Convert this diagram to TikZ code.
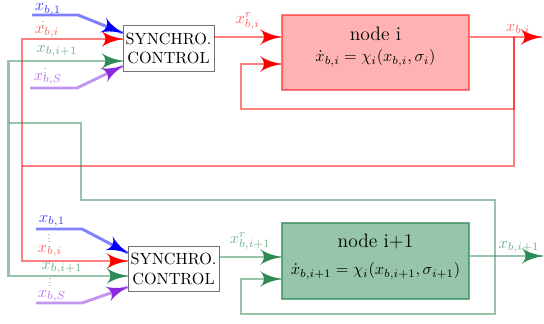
\documentclass[tikz,border=0pt]{standalone}
\usepackage{amsmath}
\usepackage{tikz}
\usetikzlibrary{arrows}
\usetikzlibrary{decorations.markings}
\usetikzlibrary{positioning}
\definecolor{seagreen}{RGB}{46,139,87}
\definecolor{blueviolet}{RGB}{138,43,226}
\tikzset{->/.style = {decoration={markings,
                                  mark=at position 1 with {\arrow[scale=1.6]{latex'}}},
                      postaction={decorate, draw opacity=1, fill opacity=1}},
         wire/.style = {draw=#1, draw opacity=0.5, line width=1.8pt},
         sync/.style = {draw=black!55, fill=white, align=center, inner sep=1pt,
                        minimum width=56pt, minimum height=28pt},
         plant/.style = {draw=#1, draw opacity=0.5, fill=#1, fill opacity=0.3,
                         line width=1.2pt, minimum width=115pt, minimum height=46.5pt}}

\begin{document}
\begin{tikzpicture}[x=0.617pt, y=-0.617pt]
    \useasboundingbox (0, 0) rectangle (544, 324);
    % blocks
    \node [sync] (sync1) at (168.5, 48.5) {SYNCHRO.\\CONTROL};
    \node [sync] (sync2) at (173.5, 269) {SYNCHRO.\\CONTROL};
    \node [plant=red] (node1) at (375.5, 52.5) {};
    \node [plant=seagreen, draw opacity=0.7, fill opacity=0.5] (node2) at (375.5, 261) {};
    \node (title1) at (375.5, 34) {\large node i};
    \node (law1) at (375.5, 58) {$\dot{x}_{b,i} = \chi_i(x_{b,i}, \sigma_i)$};
    \node (title2) at (375.5, 242) {\large node i+1};
    \node (law2) at (375.5, 271) {$\dot{x}_{b,i+1} = \chi_i(x_{b,i+1}, \sigma_{i+1})$};
    % junctions and free ends
    \coordinate (jr) at (514, 37);
    \coordinate (jg) at (495, 256);
    \coordinate (cr) at (22, 166);
    \coordinate (cg) at (8.5, 123);
    \coordinate (out1) at (542, 37);
    \coordinate (out2) at (543, 256);
    \coordinate (in1b) at (32, 15);
    \coordinate (in1s) at (30, 88);
    \coordinate (in2b) at (36, 229);
    \coordinate (in2s) at (36, 303);
    % node i
    \draw [wire=red, ->] (sync1.east |- 0, 37) -- (node1.west |- 0, 37)
        node [midway, above, red!60] {$x^r_{b,i}$};
    \draw [wire=red, ->] (node1.east |- jr) -- (out1);
    \node [red!60] (xout1) at (518, 30) {$x_{b,i}$};
    \draw [wire=red, ->] (jr) |- (241, 109) |- (node1.west |- 0, 64);
    \draw [wire=red] (jr) |- (cr);
    \draw [wire=red, ->] (cr) |- (sync1.west |- 0, 39);
    \draw [wire=red, ->] (cr) |- (sync2.west |- 0, 261);
    % node i+1
    \draw [wire=seagreen, ->] (sync2.east |- 0, 257) -- (node2.west |- 0, 257)
        node [midway, above, seagreen!70] {$x^r_{b,i+1}$};
    \draw [wire=seagreen, ->] (node2.east |- jg) -- (out2);
    \node [seagreen!70] (xout2) at (519, 247) {$x_{b,i+1}$};
    \draw [wire=seagreen, ->] (jg) |- (241, 314) |- (node2.west |- 0, 279);
    \draw [wire=seagreen] (jg) |- (81, 200) |- (cg);
    \draw [wire=seagreen, ->] (cg) |- (sync1.west |- 0, 61);
    \draw [wire=seagreen, ->] (cg) |- (sync2.west |- 0, 276);
    % other inputs
    \draw [wire=blue, ->] (in1b) -- (78, 15) -- (sync1.west |- 0, 33);
    \draw [wire=blueviolet, ->] (in1s) -- (77, 88) -- (sync1.west |- 0, 66);
    \draw [wire=blue, ->] (in2b) -- (82, 229) -- (sync2.west |- 0, 253);
    \draw [wire=blueviolet, ->] (in2s) -- (82, 303) -- (sync2.west |- 0, 287);
    % input labels
    \node [blue!75, inner sep=1pt] (l1b) at (48, 9.5) {$x_{b,1}$};
    \node [scale=0.55] (d1a) at (43, 23) {$\vdots$};
    \node [red!60] (l1i) at (47, 32) {$x_{b,i}$};
    \node [seagreen!70] (l1g) at (57, 51) {$x_{b,i+1}$};
    \node [scale=0.55] (d1b) at (45, 70) {$\vdots$};
    \node [blueviolet!65] (l1s) at (48, 79) {$x_{b,S}$};
    \node [blue!75] (l2b) at (52, 221) {$x_{b,1}$};
    \node [scale=0.55] (d2a) at (49, 236) {$\vdots$};
    \node [red!60] (l2i) at (50, 251) {$x_{b,i}$};
    \node [seagreen!70] (l2g) at (62, 268) {$x_{b,i+1}$};
    \node [scale=0.55] (d2b) at (50, 280) {$\vdots$};
    \node [blueviolet!65] (l2s) at (52, 296) {$x_{b,S}$};
\end{tikzpicture}
\end{document}
